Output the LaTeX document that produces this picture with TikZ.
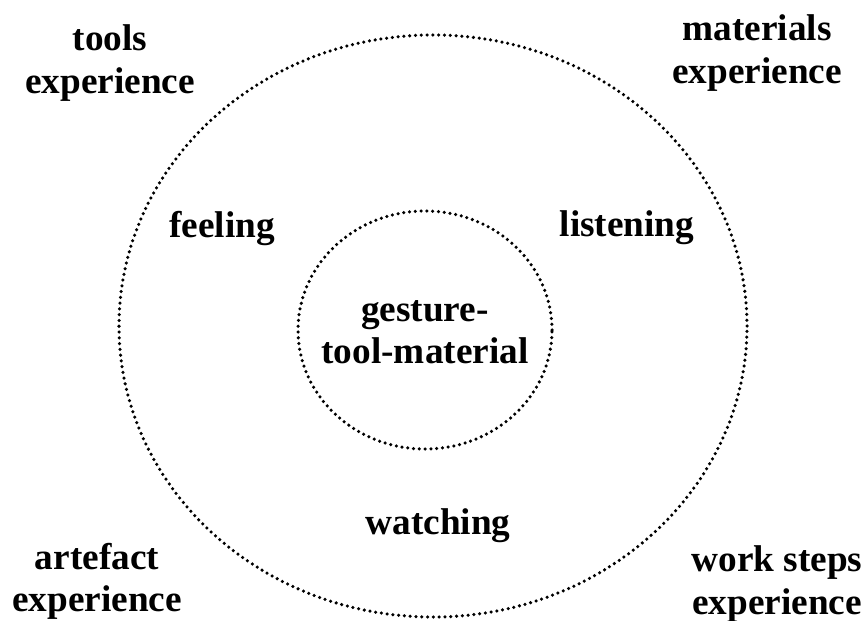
\documentclass[tikz,border=0pt]{standalone}
\usepackage{fontspec}
\setmainfont{Liberation Serif}
\usepackage{tikz}
\usetikzlibrary{positioning}

\tikzset{
  ring/.style={line width=2pt,line cap=round,dash pattern=on 0pt off 3.3pt},
  label/.style={font=\fontsize{21.2}{24}\selectfont\bfseries,align=center,inner sep=0pt}
}

\begin{document}
\begin{tikzpicture}
  \useasboundingbox (0,0) rectangle (17.3,12.4);
  % rings
  \draw[ring] (8.66,5.88) ellipse [x radius=6.28cm,y radius=5.82cm];
  \draw[ring] (8.5,5.8) ellipse [x radius=2.54cm,y radius=2.38cm];

  % inner labels
  \node[label] (core) at (8.5,5.76) {gesture-\\tool-material};
  \node[label] (feel) at (4.44,7.84) {feeling};
  \node[label] (listen) at (12.54,7.84) {listening};
  \node[label] (watch) at (8.76,1.88) {watching};

  % corner labels
  \foreach \n/\x/\y/\lab in {tools/2.2/11.14/tools,
      materials/15.14/11.34/materials,
      artefact/1.94/0.78/artefact,
      worksteps/15.54/0.72/work steps}{
    \node[label] (\n) at (\x,\y) {\lab\\experience};
  }
\end{tikzpicture}
\end{document}
